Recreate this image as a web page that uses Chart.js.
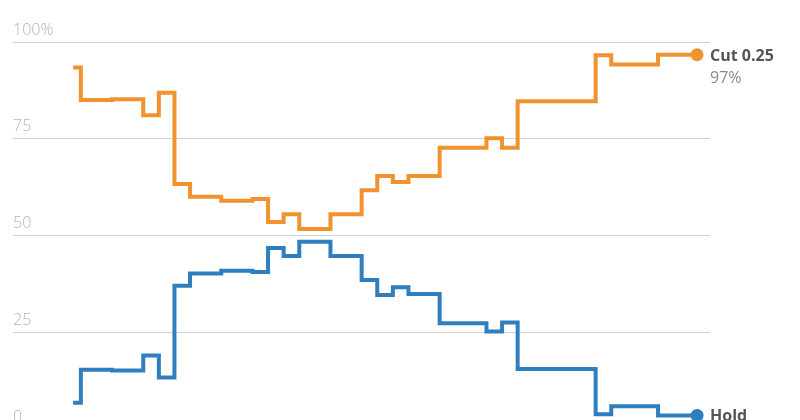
<!DOCTYPE html>
<html>
<head>
<meta charset="utf-8">
<script src="https://cdn.jsdelivr.net/npm/chart.js@4"></script>
<style>
  html, body { margin: 0; padding: 0; background: #fff; overflow: hidden; }
  #wrap { width: 800px; height: 420px; overflow: hidden; position: relative; }
  #box { width: 800px; height: 460px; position: absolute; left: 0; top: 0; }
</style>
</head>
<body>
<div id="wrap"><div id="box"><canvas id="chart"></canvas></div></div>
<script>
'use strict';

// probability of each outcome, one value per day (percent)
var cutValues = [
  93.4, 85.0, 85.0, 85.2, 85.2, 81.1, 86.9, 63.3, 60.0, 60.0,
  59.0, 59.0, 59.4, 53.5, 55.5, 51.7, 51.7, 55.5, 55.5, 61.7,
  65.4, 63.8, 65.4, 65.4, 72.7, 72.7, 72.7, 75.1, 72.7, 84.7,
  84.7, 84.7, 84.7, 84.7, 96.6, 94.2, 94.2, 94.2, 96.7, 96.7, 96.7
];
var holdValues = [
  6.8, 15.3, 15.3, 15.1, 15.1, 19.0, 13.3, 37.0, 40.2, 40.2,
  40.9, 40.9, 40.6, 46.8, 44.7, 48.4, 48.4, 44.7, 44.7, 38.5,
  34.6, 36.6, 34.9, 34.9, 27.3, 27.3, 27.3, 25.2, 27.5, 15.5,
  15.5, 15.5, 15.5, 15.5, 3.8, 5.9, 5.9, 5.9, 3.5, 3.5, 3.5
];
var seriesNames = ['Cut 0.25', 'Hold'];
var endLabels = ['97%', '3%'];
var yTicks = [0, 25, 50, 75, 100];

var ORANGE = '#f0932f';
var BLUE = '#2f7ebd';

// turn a value list into {x, y} points by day index
function toPoints(values) {
  return values.map(function (v, i) {
    return { x: i, y: v };
  });
}

// only the last point gets a dot
function lastDot(ctx) {
  return ctx.dataIndex === ctx.dataset.data.length - 1 ? 6.5 : 0;
}

function makeDataset(label, values, color) {
  return {
    label: label,
    data: toPoints(values),
    borderColor: color,
    backgroundColor: color,
    pointBackgroundColor: color,
    borderWidth: 4,
    stepped: 'middle',
    fill: false,
    pointRadius: lastDot,
    pointHoverRadius: lastDot,
    pointBorderWidth: 0,
    borderJoinStyle: 'miter',
    clip: false
  };
}

// writes the series name and last value next to each end dot
var endLabelPlugin = {
  id: 'endLabels',
  afterDatasetsDraw: function (chart) {
    var ctx = chart.ctx;
    ctx.save();
    chart.data.datasets.forEach(function (ds, di) {
      var meta = chart.getDatasetMeta(di);
      var last = meta.data[meta.data.length - 1];
      var x = last.x + 13;
      ctx.textAlign = 'left';
      ctx.textBaseline = 'alphabetic';
      ctx.fillStyle = '#555';
      ctx.font = 'bold 16px "Open Sans", sans-serif';
      ctx.fillText(seriesNames[di], x, last.y + 6);
      ctx.fillStyle = '#8a8a8a';
      ctx.font = '16px "Open Sans", sans-serif';
      ctx.fillText(endLabels[di], x, last.y + 28);
    });
    ctx.restore();
  }
};

var c = document.getElementById('chart');
var context = c.getContext('2d');

var chart = new Chart(context, {
  type: 'line',
  data: {
    datasets: [
      makeDataset(seriesNames[0], cutValues, ORANGE),
      makeDataset(seriesNames[1], holdValues, BLUE)
    ]
  },
  options: {
    responsive: true,
    maintainAspectRatio: false,
    animation: false,
    events: [],
    layout: {
      padding: { left: 13, right: 90, top: 42, bottom: 31 }
    },
    plugins: {
      legend: { display: false },
      tooltip: { enabled: false }
    },
    scales: {
      x: {
        type: 'linear',
        min: -3.85,
        max: 40.83,
        display: false
      },
      y: {
        min: 0,
        max: 100,
        afterFit: function (scale) { scale.width = 0; },
        afterBuildTicks: function (scale) {
          scale.ticks = yTicks.map(function (v) { return { value: v }; });
        },
        border: { display: false },
        grid: {
          color: '#d2d2d2',
          lineWidth: 1,
          drawTicks: false
        },
        ticks: {
          mirror: true,
          padding: 0,
          labelOffset: -12,
          color: '#b3b3b3',
          font: { family: 'Open Sans', size: 16, weight: '300' },
          callback: function (v) { return v === 100 ? '100%' : String(v); }
        }
      }
    }
  },
  plugins: [endLabelPlugin]
});
</script>
</body>
</html>
